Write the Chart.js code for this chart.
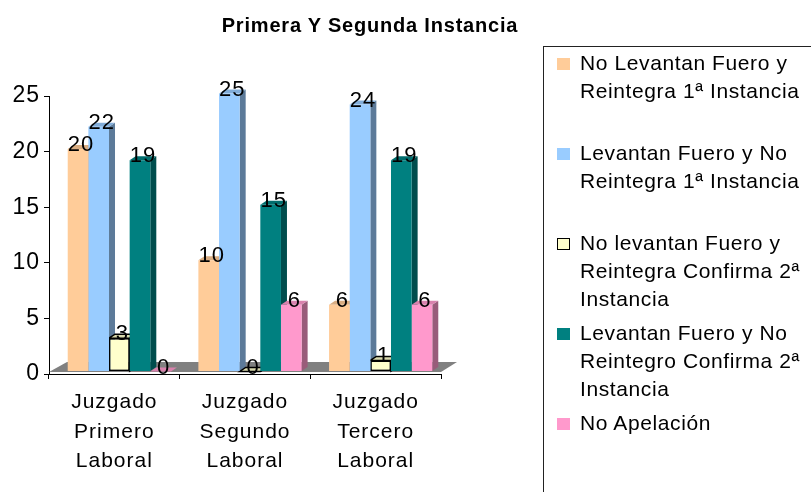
<!DOCTYPE html>
<html>
<head>
<meta charset="utf-8">
<script src="https://cdn.jsdelivr.net/npm/chart.js"></script>
<style>
  body { margin: 0; background: #fff; }
  #wrap { position: relative; width: 811px; height: 492px; overflow: hidden; font-family: 'Liberation Sans', Arial, sans-serif; }
  #title { position: absolute; left: 0; top: 15px; width: 740px; text-align: center; font-weight: bold; font-size: 20px; line-height: 20px; letter-spacing: 0.8px; color: #000; }
  #legend { position: absolute; left: 543px; top: 46px; width: 320px; height: 500px; border: 1px solid #222; box-sizing: border-box; }
  .item { position: relative; height: 90px; }
  .swatch { position: absolute; left: 13px; top: 11px; width: 13px; height: 12px; box-sizing: border-box; }
  .text { position: absolute; left: 36px; top: 2px; font-size: 21px; line-height: 28px; letter-spacing: 0.6px; color: #000; white-space: nowrap; }
</style>
</head>
<body>
<div id="wrap">
  <canvas id="chart" width="811" height="492"></canvas>
  <div id="title">Primera Y Segunda Instancia</div>
  <div id="legend"></div>
</div>
<script>
// categories (x axis labels, one line per entry)
let categories = [
    ["Juzgado", "Primero", "Laboral"],
    ["Juzgado", "Segundo", "Laboral"],
    ["Juzgado", "Tercero", "Laboral"]
]

// series values
let no_levantan_reintegra_1 = [20, 10, 6]
let levantan_no_reintegra_1 = [22, 25, 24]
let no_levantan_confirma_2 = [3, 0, 1]
let levantan_no_reintegro_confirma_2 = [19, 15, 19]
let no_apelacion = [0, 6, 6]

// legend text, as shown in the legend box
let series_lines = [
    ["No Levantan Fuero y", "Reintegra 1ª Instancia"],
    ["Levantan Fuero y No", "Reintegra 1ª Instancia"],
    ["No levantan Fuero y", "Reintegra Confirma 2ª", "Instancia"],
    ["Levantan Fuero y No", "Reintegro Confirma 2ª", "Instancia"],
    ["No Apelación"]
]

let y_min = 0
let y_max = 25
let y_step = 5

let series_values = [no_levantan_reintegra_1, levantan_no_reintegra_1, no_levantan_confirma_2,
    levantan_no_reintegro_confirma_2, no_apelacion]
let colors = ["#FFCC99", "#99CCFF", "#FFFFCC", "#008080", "#FF99CC"]
let outlined = [false, false, true, false, false]

const FONT = "'Liberation Sans', Arial, sans-serif"
const DEPTH_X = 6
const DEPTH_Y = 4

function shade(hex, f) {
    let n = parseInt(hex.slice(1), 16)
    let r = Math.round(((n >> 16) & 255) * f)
    let g = Math.round(((n >> 8) & 255) * f)
    let b = Math.round((n & 255) * f)
    return "rgb(" + r + "," + g + "," + b + ")"
}

function poly(ctx, pts, fill, stroke) {
    ctx.beginPath()
    ctx.moveTo(pts[0][0], pts[0][1])
    for (let i = 1; i < pts.length; i++) ctx.lineTo(pts[i][0], pts[i][1])
    ctx.closePath()
    ctx.fillStyle = fill
    ctx.fill()
    if (stroke) {
        ctx.lineWidth = 1.5
        ctx.strokeStyle = stroke
        ctx.stroke()
    }
}

// floor, 3D faces of the bars and value labels
const bars3d = {
    id: "bars3d",
    beforeDraw(chart) {
        chart.ctx.letterSpacing = "1px"
    },
    beforeDatasetsDraw(chart) {
        let ctx = chart.ctx
        let area = chart.chartArea
        let y0 = chart.scales.y.getPixelForValue(0)

        // grey floor
        poly(ctx, [[area.left, y0 - 2], [area.right, y0 - 2], [area.right + 16, y0 - 12], [area.left + 18, y0 - 12]], "#808080")

        ctx.save()
        ctx.translate(5, -2.5)
        chart.data.datasets.forEach((ds, d) => {
            let meta = chart.getDatasetMeta(d)
            meta.data.forEach(bar => {
                let left = bar.x - bar.width / 2
                let right = bar.x + bar.width / 2
                let top = bar.y
                let base = bar.base
                let stroke = outlined[d] ? "#000" : null
                poly(ctx, [[right, top], [right + DEPTH_X, top - DEPTH_Y], [right + DEPTH_X, base - DEPTH_Y], [right, base]],
                    shade(colors[d], 0.6), stroke)
                poly(ctx, [[left, top], [left + DEPTH_X, top - DEPTH_Y], [right + DEPTH_X, top - DEPTH_Y], [right, top]],
                    shade(colors[d], 0.85), stroke)
            })
        })
    },
    afterDatasetsDraw(chart) {
        let ctx = chart.ctx
        ctx.font = "22px " + FONT
        ctx.fillStyle = "#000"
        ctx.textAlign = "center"
        ctx.textBaseline = "alphabetic"
        chart.data.datasets.forEach((ds, d) => {
            let meta = chart.getDatasetMeta(d)
            meta.data.forEach((bar, i) => {
                ctx.fillText(String(ds.data[i]), bar.x + 3, bar.y + 2)
            })
        })
        ctx.restore()
    }
}

let datasets = []
for (let d = 0; d < series_values.length; d++) {
    datasets.push({
        label: series_lines[d].join(" "),
        data: series_values[d],
        backgroundColor: colors[d],
        borderColor: "#000",
        borderWidth: outlined[d] ? 1.5 : 0,
        borderSkipped: false,
        categoryPercentage: 0.79,
        barPercentage: 1.0,
        clip: false
    })
}

new Chart(document.getElementById("chart"), {
    type: "bar",
    data: { labels: categories, datasets: datasets },
    options: {
        responsive: false,
        animation: false,
        layout: { padding: { left: 0, top: 96, right: 370, bottom: 0 } },
        plugins: {
            legend: { display: false },
            title: { display: false },
            tooltip: { enabled: false }
        },
        scales: {
            x: {
                grid: { drawOnChartArea: false, drawTicks: true, tickLength: 5, color: "#000", offset: true },
                border: { color: "#000", width: 1 },
                ticks: {
                    color: "#000",
                    padding: 8,
                    autoSkip: false,
                    maxRotation: 0,
                    font: { family: FONT, size: 21, lineHeight: 1.42 }
                },
                afterFit(scale) { scale.height = 118 }
            },
            y: {
                min: y_min,
                max: y_max,
                grid: { drawOnChartArea: false, drawTicks: true, tickLength: 5, color: "#000" },
                border: { color: "#000", width: 1 },
                ticks: {
                    stepSize: y_step,
                    color: "#000",
                    padding: 4,
                    font: { family: FONT, size: 23 }
                },
                afterFit(scale) { scale.width = 49 }
            }
        }
    },
    plugins: [bars3d]
})

// legend box
let legend = document.getElementById("legend")
for (let d = 0; d < series_lines.length; d++) {
    let item = document.createElement("div")
    item.className = "item"
    let sw = document.createElement("div")
    sw.className = "swatch"
    sw.style.background = colors[d]
    if (outlined[d]) sw.style.border = "1.5px solid #000"
    let txt = document.createElement("div")
    txt.className = "text"
    txt.innerHTML = series_lines[d].join("<br>")
    item.appendChild(sw)
    item.appendChild(txt)
    legend.appendChild(item)
}
</script>
</body>
</html>
